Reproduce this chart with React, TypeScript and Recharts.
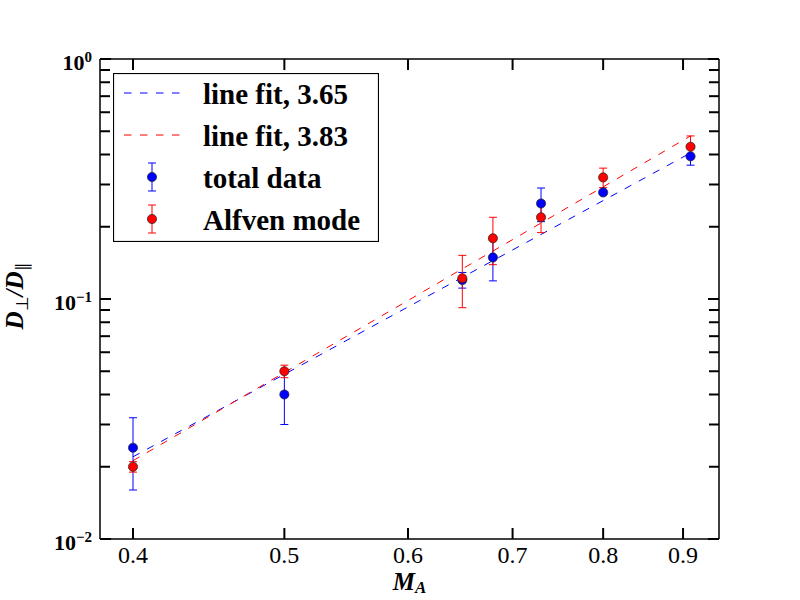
import React from 'react';
import { ComposedChart, XAxis, YAxis, Line, Scatter, ErrorBar, Legend, ReferenceLine } from 'recharts';

// values
const machNumbers = [0.4, 0.5, 0.65, 0.68, 0.73, 0.8, 0.91];
const totalRatio = [0.024, 0.04, 0.12, 0.149, 0.25, 0.278, 0.393];
const totalError = [0.008, 0.01, 0.009, 0.03, 0.04, 0.005, 0.032];
const alfvenRatio = [0.02, 0.05, 0.122, 0.179, 0.219, 0.321, 0.431];
const alfvenError = [0.001, 0.003, 0.03, 0.04, 0.03, 0.03, 0.047];

const fitRange = [0.4, 0.91];
const totalFit = [0.022, 0.406];
const alfvenFit = [0.0212, 0.478];

const xTicks = [0.4, 0.5, 0.6, 0.7, 0.8, 0.9];
const yTicks = [
  0.01, 0.02, 0.03, 0.04, 0.05, 0.06, 0.07, 0.08, 0.09,
  0.1, 0.2, 0.3, 0.4, 0.5, 0.6, 0.7, 0.8, 0.9, 1,
];
const xDomain = [0.381, 0.949];
const yDomain = [0.01, 1];

const legendLabels = ['line fit, 3.65', 'line fit, 3.83', 'total data', 'Alfven mode'];

const BLUE = '#0000ff';
const RED = '#ff0000';
const SERIF = '"Liberation Serif", "Times New Roman", serif';
const DASH = '7.5 8.5';

const W = 800;
const H = 600;
const LEFT = 100;
const RIGHT = 719;
const TOP = 59;
const BOTTOM = 539;

const axisLine = { stroke: '#000', strokeWidth: 1.5 };

const toPoints = (xs: number[], ys: number[], errs?: number[]) =>
  xs.map((x, i) => ({ x, y: ys[i], err: errs ? errs[i] : 0 }));

const totalPoints = toPoints(machNumbers, totalRatio, totalError);
const alfvenPoints = toPoints(machNumbers, alfvenRatio, alfvenError);
const totalFitPoints = toPoints(fitRange, totalFit);
const alfvenFitPoints = toPoints(fitRange, alfvenFit);

const isDecade = (v: number) => Math.abs(Math.log10(v) - Math.round(Math.log10(v))) < 1e-9;

const BottomTick = (props: any) => {
  const { x, payload } = props;
  return (
    <text x={x} y={BOTTOM + 24} textAnchor="middle" fontFamily={SERIF} fontSize={24} fill="#000">
      {Number(payload.value).toFixed(1)}
    </text>
  );
};

const LeftTick = (props: any) => {
  const { y, payload } = props;
  const v = Number(payload.value);
  if (!isDecade(v)) return <g />;
  const exp = Math.round(Math.log10(v));
  return (
    <text x={LEFT - 8} y={y + 11} textAnchor="end" fontFamily={SERIF} fontWeight="bold" fontSize={22} fill="#000">
      <tspan>10</tspan>
      <tspan dy={-8} fontSize={15}>{exp < 0 ? `\u2212${-exp}` : `${exp}`}</tspan>
    </text>
  );
};

// tick marks pointing into the frame, at both ends of a reference line
const XTickMarks = (p: any) => {
  const x = p.x1;
  const top = Math.min(p.y1, p.y2);
  const bot = Math.max(p.y1, p.y2);
  return (
    <g>
      <line x1={x} x2={x} y1={bot} y2={bot - 11} stroke="#000" strokeWidth={2} />
      <line x1={x} x2={x} y1={top} y2={top + 11} stroke="#000" strokeWidth={2} />
    </g>
  );
};

const YTickMarks = (len: number) => (p: any) => {
  const y = p.y1;
  const l = Math.min(p.x1, p.x2);
  const r = Math.max(p.x1, p.x2);
  return (
    <g>
      <line x1={l} x2={l + len} y1={y} y2={y} stroke="#000" strokeWidth={2} />
      <line x1={r} x2={r - len} y1={y} y2={y} stroke="#000" strokeWidth={2} />
    </g>
  );
};

const XTitle = () => (
  <text x={(LEFT + RIGHT) / 2} y={590} textAnchor="middle" fontFamily={SERIF} fontStyle="italic" fontWeight="bold" fontSize={25} fill="#000">
    <tspan>M</tspan>
    <tspan dy={3} fontSize={17}>A</tspan>
  </text>
);

const YTitle = () => (
  <text
    x={23}
    y={296}
    transform="rotate(-90, 23, 296)"
    textAnchor="middle"
    fontFamily={SERIF}
    fontStyle="italic"
    fontWeight="bold"
    fontSize={25}
    fill="#000"
  >
    <tspan>D</tspan>
    <tspan dy={5} fontSize={17} fontStyle="normal" fontWeight="normal">{'\u22a5'}</tspan>
    <tspan dy={-5}>/D</tspan>
    <tspan dy={5} fontSize={17} fontStyle="normal" fontWeight="normal">{'\u2225'}</tspan>
  </text>
);

const Dot = (color: string) => (props: any) => (
  <circle cx={props.cx} cy={props.cy} r={4.6} fill={color} stroke="#222" strokeWidth={0.7} />
);

const LegendBox = () => {
  const colors = [BLUE, RED, BLUE, RED];
  return (
    <svg width={266} height={169} style={{ display: 'block' }}>
      <rect x={0.5} y={0.5} width={265} height={168} fill="#fff" stroke="#000" strokeWidth={1.2} />
      {legendLabels.map((label, i) => {
        const cy = 20 + i * 42;
        const color = colors[i];
        return (
          <g key={label}>
            {i < 2 ? (
              <line x1={11} x2={68} y1={cy} y2={cy} stroke={color} strokeWidth={1} strokeDasharray={DASH} />
            ) : (
              <g>
                <line x1={39} x2={39} y1={cy - 14} y2={cy + 14} stroke={color} strokeWidth={1} />
                <line x1={35} x2={43} y1={cy - 14} y2={cy - 14} stroke={color} strokeWidth={1} />
                <line x1={35} x2={43} y1={cy + 14} y2={cy + 14} stroke={color} strokeWidth={1} />
                <circle cx={39} cy={cy} r={4.6} fill={color} stroke="#222" strokeWidth={0.7} />
              </g>
            )}
            <text x={90} y={cy + 11} fontFamily={SERIF} fontWeight="bold" fontSize={29} fill="#000">
              {label}
            </text>
          </g>
        );
      })}
    </svg>
  );
};

export default function App() {
  return (
    <div style={{ position: 'absolute', left: 0, top: 0, width: W, height: H, background: '#fff' }}>
      <ComposedChart width={W} height={H} margin={{ top: 0, right: 0, bottom: 0, left: 0 }}>
        <XAxis
          dataKey="x"
          type="number"
          scale="log"
          domain={xDomain}
          allowDataOverflow
          ticks={xTicks}
          interval={0}
          height={H - BOTTOM}
          axisLine={axisLine}
          tickLine={false}
          tick={BottomTick}
          label={XTitle}
        />
        <XAxis
          xAxisId="top"
          orientation="top"
          type="number"
          scale="log"
          domain={xDomain}
          allowDataOverflow
          ticks={xTicks}
          interval={0}
          height={TOP}
          axisLine={axisLine}
          tickLine={false}
          tick={false}
        />
        <YAxis
          dataKey="y"
          type="number"
          scale="log"
          domain={yDomain}
          allowDataOverflow
          ticks={yTicks}
          interval={0}
          width={LEFT}
          axisLine={axisLine}
          tickLine={false}
          tick={LeftTick}
          label={YTitle}
        />
        <YAxis
          yAxisId="right"
          orientation="right"
          type="number"
          scale="log"
          domain={yDomain}
          allowDataOverflow
          ticks={yTicks}
          interval={0}
          width={W - RIGHT}
          axisLine={axisLine}
          tickLine={false}
          tick={false}
        />
        {xTicks.map((v) => (
          <ReferenceLine key={`xt${v}`} x={v} shape={XTickMarks} />
        ))}
        {yTicks.map((v) => (
          <ReferenceLine key={`yt${v}`} y={v} shape={YTickMarks(isDecade(v) ? 11 : 10)} />
        ))}
        <Line
          name={legendLabels[0]}
          data={totalFitPoints}
          dataKey="y"
          type="linear"
          stroke={BLUE}
          strokeWidth={1}
          strokeDasharray={DASH}
          dot={false}
          activeDot={false}
          isAnimationActive={false}
        />
        <Line
          name={legendLabels[1]}
          data={alfvenFitPoints}
          dataKey="y"
          type="linear"
          stroke={RED}
          strokeWidth={1}
          strokeDasharray={DASH}
          dot={false}
          activeDot={false}
          isAnimationActive={false}
        />
        <Scatter
          name={legendLabels[2]}
          data={totalPoints}
          dataKey="y"
          fill={BLUE}
          shape={Dot(BLUE)}
          isAnimationActive={false}
        >
          <ErrorBar dataKey="err" direction="y" width={4} stroke={BLUE} strokeWidth={1} isAnimationActive={false} />
        </Scatter>
        <Scatter
          name={legendLabels[3]}
          data={alfvenPoints}
          dataKey="y"
          fill={RED}
          shape={Dot(RED)}
          isAnimationActive={false}
        >
          <ErrorBar dataKey="err" direction="y" width={4} stroke={RED} strokeWidth={1} isAnimationActive={false} />
        </Scatter>
        <Legend
          layout="vertical"
          align="center"
          verticalAlign="middle"
          wrapperStyle={{ top: 73, left: 113, width: 266, height: 169 }}
          content={LegendBox}
        />
      </ComposedChart>
    </div>
  );
}
